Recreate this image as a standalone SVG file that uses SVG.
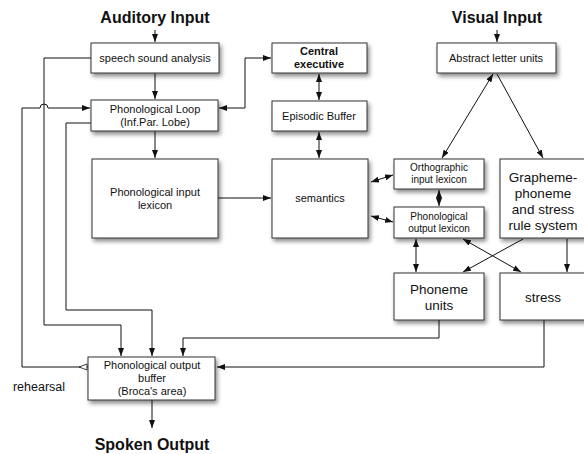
<svg xmlns="http://www.w3.org/2000/svg" width="584" height="454" viewBox="0 0 584 454">
<style>
.box{fill:#fff;stroke:#333;stroke-width:1;filter:url(#sh)}
.t{font-family:"Liberation Sans",Arial,sans-serif;fill:#111;text-anchor:middle}
.s10{font-size:10px}.s11{font-size:11px}.s13{font-size:13.5px}
.h{font-size:16px;font-weight:bold}
.c{fill:none;stroke:#111;stroke-width:1}
</style>
<defs>
<filter id="sh" x="-20%" y="-20%" width="150%" height="160%">
<feDropShadow dx="2" dy="3" stdDeviation="2" flood-color="#000" flood-opacity="0.45"/>
</filter>
<marker id="a" viewBox="0 0 8 6" refX="8" refY="3" markerWidth="8" markerHeight="6" markerUnits="userSpaceOnUse" orient="auto-start-reverse">
<path d="M0,0 L8,3 L0,6 z" fill="#111"/>
</marker>
<marker id="o" viewBox="0 0 9 8" refX="9" refY="4" markerWidth="9" markerHeight="8" markerUnits="userSpaceOnUse" orient="auto-start-reverse">
<path d="M0,4 L8,1 L8,7 z" fill="#fff" stroke="#111" stroke-width="0.8"/>
</marker>
</defs>
<rect width="584" height="454" fill="#fff"/>

<g id="connectors">
<path class="c" d="M155,30 V42" marker-end="url(#a)"/>
<path class="c" d="M155,73 V99" marker-end="url(#a)"/>
<path class="c" d="M91,58 H44 V325 H121 V356" marker-end="url(#a)"/>
<path class="c" d="M88,367 H22 V108 H40 A4,4 0 0 1 48,108 H90" marker-end="url(#a)" marker-start="url(#o)"/>
<path class="c" d="M219,108 H245 V58 H271" marker-end="url(#a)" marker-start="url(#a)"/>
<path class="c" d="M91,123 H66 V310 H152 V356" marker-end="url(#a)"/>
<path class="c" d="M155,131 V158" marker-end="url(#a)"/>
<path class="c" d="M218,198 H271" marker-end="url(#a)"/>
<path class="c" d="M319,74 V100" marker-end="url(#a)" marker-start="url(#a)"/>
<path class="c" d="M319,132 V158" marker-end="url(#a)" marker-start="url(#a)"/>
<path class="c" d="M371,182 L393,175" marker-end="url(#a)" marker-start="url(#a)"/>
<path class="c" d="M371,216 L393,222" marker-end="url(#a)" marker-start="url(#a)"/>
<path class="c" d="M439,190 V206" marker-end="url(#a)" marker-start="url(#a)"/>
<path class="c" d="M497,30 V42" marker-end="url(#a)"/>
<path class="c" d="M493,74 L442,158" marker-end="url(#a)" marker-start="url(#a)"/>
<path class="c" d="M497,74 L543,158" marker-end="url(#a)"/>
<path class="c" d="M416,239 V272" marker-end="url(#a)" marker-start="url(#a)"/>
<path class="c" d="M463,239 L521,272" marker-end="url(#a)" marker-start="url(#a)"/>
<path class="c" d="M523,239 L463,272" marker-end="url(#a)"/>
<path class="c" d="M567,239 V272" marker-end="url(#a)"/>
<path class="c" d="M439,320 V338 H183 V356" marker-end="url(#a)"/>
<path class="c" d="M544,320 V367 H217" marker-end="url(#a)"/>
<path class="c" d="M152,400 V428" marker-end="url(#a)"/>
</g>

<text class="t h" x="155" y="23">Auditory Input</text>
<text class="t h" x="497" y="23">Visual Input</text>
<text class="t h" x="152" y="450">Spoken Output</text>
<text class="t" x="39" y="391" style="font-size:12.5px">rehearsal</text>

<g id="ssa"><rect class="box" x="91" y="43" width="128" height="30"/>
<text class="t s11" x="155" y="62">speech sound analysis</text></g>

<g id="loop"><rect class="box" x="91" y="100" width="127" height="31"/>
<text class="t s11" x="155" y="113">Phonological Loop</text>
<text class="t s11" x="155" y="126">(Inf.Par. Lobe)</text></g>

<g id="pil"><rect class="box" x="92" y="159" width="126" height="79"/>
<text class="t s11" x="155" y="196">Phonological input</text>
<text class="t s11" x="155" y="209">lexicon</text></g>

<g id="ce"><rect class="box" x="272" y="43" width="95" height="30"/>
<text class="t s11" x="319" y="55" font-weight="bold">Central</text>
<text class="t s11" x="319" y="68" font-weight="bold">executive</text></g>

<g id="eb"><rect class="box" x="272" y="101" width="95" height="30"/>
<text class="t s11" x="319" y="120">Episodic Buffer</text></g>

<g id="sem"><rect class="box" x="272" y="159" width="96" height="79"/>
<text class="t s11" x="320" y="202">semantics</text></g>

<g id="alu"><rect class="box" x="437" y="43" width="119" height="30"/>
<text class="t s11" x="496" y="62">Abstract letter units</text></g>

<g id="oil"><rect class="box" x="394" y="159" width="90" height="30"/>
<text class="t s10" x="439" y="171">Orthographic</text>
<text class="t s10" x="439" y="183">input lexicon</text></g>

<g id="pol"><rect class="box" x="394" y="207" width="90" height="31"/>
<text class="t s10" x="439" y="220">Phonological</text>
<text class="t s10" x="439" y="232">output lexicon</text></g>

<g id="gpc"><rect class="box" x="500" y="159" width="95" height="79"/>
<text class="t s13" x="543" y="182">Grapheme-</text>
<text class="t s13" x="543" y="198">phoneme</text>
<text class="t s13" x="543" y="214">and stress</text>
<text class="t s13" x="543" y="230">rule system</text></g>

<g id="pu"><rect class="box" x="394" y="273" width="90" height="47"/>
<text class="t s13" x="439" y="294">Phoneme</text>
<text class="t s13" x="439" y="310">units</text></g>

<g id="stress"><rect class="box" x="500" y="273" width="95" height="47"/>
<text class="t s13" x="543" y="302">stress</text></g>

<g id="buf"><rect class="box" x="88" y="357" width="127" height="43"/>
<text class="t s11" x="152" y="369">Phonological output</text>
<text class="t s11" x="152" y="382">buffer</text>
<text class="t s11" x="152" y="395">(Broca's area)</text></g>
</svg>
